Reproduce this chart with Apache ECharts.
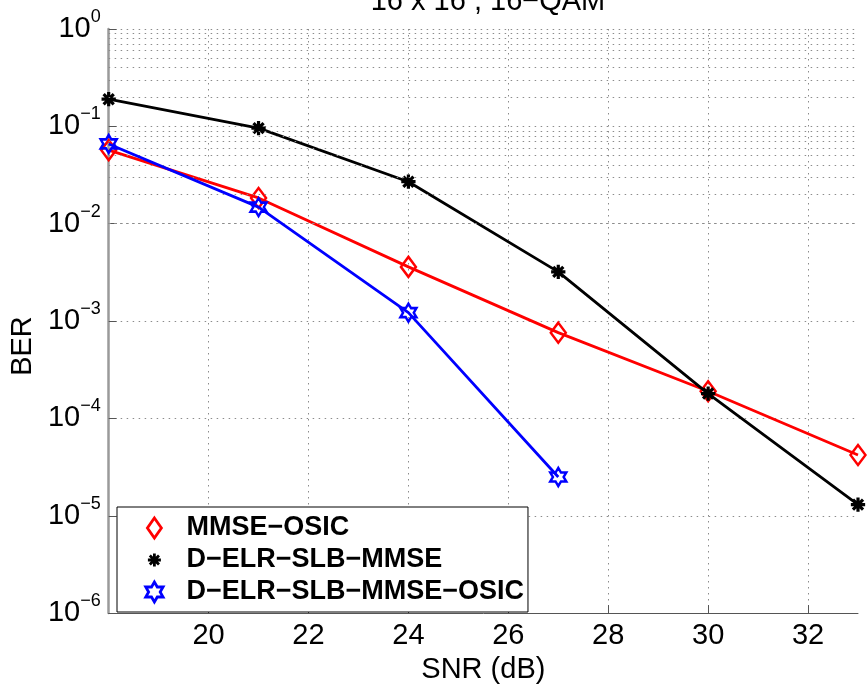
<!DOCTYPE html>
<html><head><meta charset="utf-8">
<script src="https://cdn.jsdelivr.net/npm/echarts@6/dist/echarts.min.js"></script>
<style>html,body{margin:0;padding:0;background:#fff}#c{width:867px;height:689px}</style>
</head><body><div id="c"></div>
<script>
// ---- data ----
const snr = [18, 21, 24, 27, 30, 33];
const snrOsic = [18, 21, 24, 27];
const mmseOsic = [0.057, 0.0184, 0.0036, 0.00076, 0.00019, 0.000042];
const delrMmse = [0.19, 0.096, 0.027, 0.0032, 0.00018, 0.000013];
const delrMmseOsic = [0.066, 0.0148, 0.00122, 0.000025];
const seriesNames = ['MMSE\u2212OSIC', 'D\u2212ELR\u2212SLB\u2212MMSE', 'D\u2212ELR\u2212SLB\u2212MMSE\u2212OSIC'];
const xTickValues = [20, 22, 24, 26, 28, 30, 32];
const titleText = '16 x 16 , 16\u2212QAM';

const FONT = '"Liberation Sans", Arial, Helvetica, sans-serif';
const diamondPath = 'path://M7,0L14,10L7,20L0,10Z';
const starPath = 'path://M0,0M20,20M3.5,10L16.5,10M10,3.5L10,16.5M5.4,5.4L14.6,14.6M5.4,14.6L14.6,5.4';
const hexPath = 'path://M8.66,0L5.77,5L0,5L2.89,10L0,15L5.77,15L8.66,20L11.55,15L17.32,15L14.43,10L17.32,5L11.55,5Z';

const pairs = (xs, ys) => ys.map((y, i) => [xs[i], y]);

// minor grid values for log axis
const minorVals = [];
for (let d = -6; d <= -1; d++) for (let m = 2; m <= 9; m++) minorVals.push(m * Math.pow(10, d));

const gridDot = { color: '#8c8c8c', width: 1, type: [1.5, 4.5] };

const chart = echarts.init(document.getElementById('c'));
chart.setOption({
  animation: false,
  backgroundColor: '#fff',
  title: {
    text: titleText, left: 483, top: -18, textAlign: 'center',
    textStyle: { fontFamily: FONT, fontSize: 29, fontWeight: 'normal', color: '#000' }
  },
  grid: { left: 108, right: 9, top: 29, bottom: 69 },
  xAxis: {
    type: 'value', min: 18, max: 33, interval: 2,
    name: 'SNR (dB)', nameLocation: 'middle', nameGap: 37,
    nameTextStyle: { fontFamily: FONT, fontSize: 29, color: '#000' },
    axisLine: { show: true, lineStyle: { color: '#555', width: 1 } },
    axisTick: { show: true, inside: true, length: 8, lineStyle: { color: '#555' } },
    axisLabel: {
      margin: 8, fontFamily: FONT, fontSize: 29, color: '#000',
      showMinLabel: false, showMaxLabel: false,
      formatter: v => xTickValues.indexOf(v) >= 0 ? String(v) : ''
    },
    splitLine: { show: true, showMinLine: false, showMaxLine: false, lineStyle: gridDot }
  },
  yAxis: {
    type: 'log', logBase: 10, min: 1e-6, max: 1,
    name: 'BER', nameLocation: 'middle', nameGap: 64,
    nameTextStyle: { fontFamily: FONT, fontSize: 29, color: '#000', padding: [0, 50, 0, 0] },
    axisLine: { show: true, lineStyle: { color: '#9a9a9a', width: 2.5 } },
    axisTick: { show: true, inside: true, length: 8, lineStyle: { color: '#555' } },
    axisLabel: {
      margin: 8, color: '#000',
      formatter: v => {
        const e = Math.round(Math.log10(v));
        return '{b|10}{s|' + (e === 0 ? '0' : '\u2212' + (-e)) + '}';
      },
      rich: {
        b: { fontFamily: FONT, fontSize: 29, color: '#000', verticalAlign: 'middle' },
        s: { fontFamily: FONT, fontSize: 18, color: '#000', verticalAlign: 'middle', padding: [0, 0, 24, 0] }
      }
    },
    splitLine: { show: true, showMinLine: false, lineStyle: gridDot }
  },
  legend: {
    orient: 'vertical', left: 117, top: 507,
    padding: [6, 4, 5, 26], itemWidth: 54, itemHeight: 20, itemGap: 2,
    borderColor: '#000', borderWidth: 1, backgroundColor: '#fff',
    textStyle: { fontFamily: FONT, fontSize: 27, fontWeight: 'bold', color: '#000', lineHeight: 30 },
    itemStyle: { borderWidth: 2.8 },
    data: [
      { name: seriesNames[0], icon: diamondPath },
      { name: seriesNames[1], icon: starPath },
      { name: seriesNames[2], icon: hexPath }
    ]
  },
  series: [
    {
      name: '__grid', type: 'line', data: [], z: 1, silent: true,
      markLine: {
        silent: true, symbol: 'none', label: { show: false },
        lineStyle: gridDot,
        data: minorVals.map(v => ({ yAxis: v }))
      }
    },
    {
      name: seriesNames[0], type: 'line', z: 3,
      data: pairs(snr, mmseOsic),
      symbol: diamondPath, symbolSize: [15, 20], symbolKeepAspect: false,
      lineStyle: { color: '#ff0000', width: 2.8 },
      itemStyle: { color: 'rgba(255,255,255,0)', borderColor: '#ff0000', borderWidth: 2.5 }
    },
    {
      name: seriesNames[1], type: 'line', z: 4,
      data: pairs(snr, delrMmse),
      symbol: starPath, symbolSize: 22, symbolKeepAspect: true,
      lineStyle: { color: '#000000', width: 2.8 },
      itemStyle: { color: '#000000', borderColor: '#000000', borderWidth: 3.2 }
    },
    {
      name: seriesNames[2], type: 'line', z: 5,
      data: pairs(snrOsic, delrMmseOsic),
      symbol: hexPath, symbolSize: [16, 18], symbolKeepAspect: false,
      lineStyle: { color: '#0000ff', width: 2.8 },
      itemStyle: { color: 'rgba(255,255,255,0)', borderColor: '#0000ff', borderWidth: 2.5 }
    }
  ]
});
</script>
</body></html>
